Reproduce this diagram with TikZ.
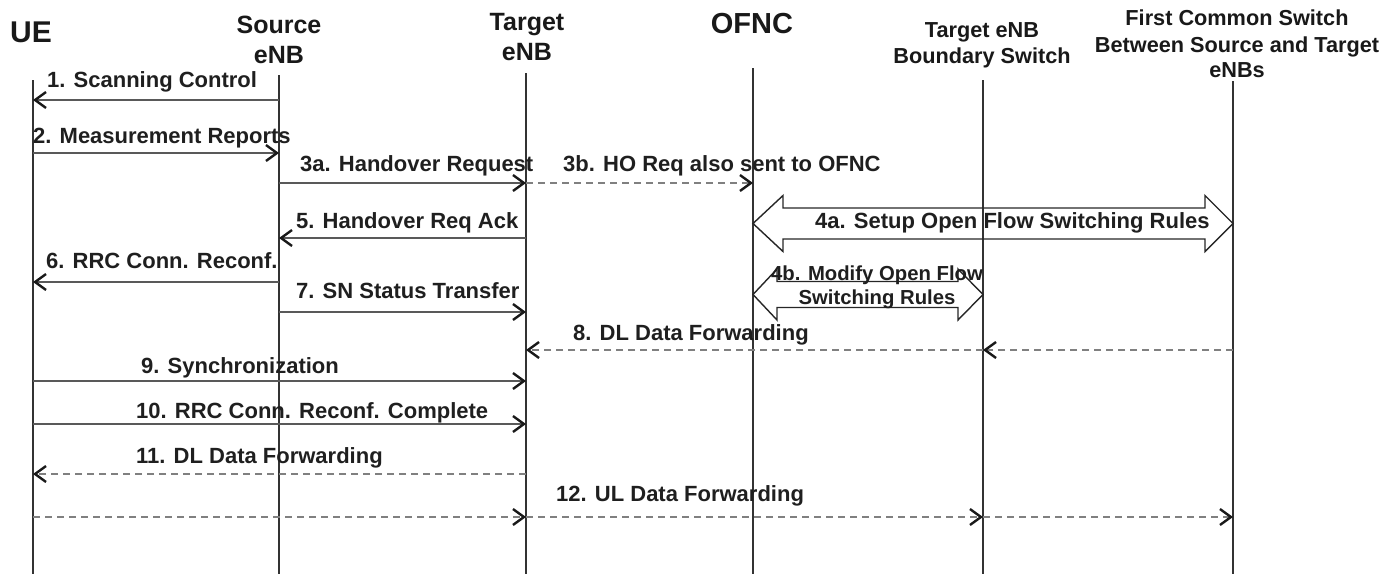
\documentclass[tikz,border=0pt]{standalone}
\usepackage{fontspec}
\setmainfont{Liberation Sans}
\usetikzlibrary{arrows.meta,calc}
\begin{document}
\begin{tikzpicture}[x=1pt,y=-1pt,
  life/.style={line width=1.4pt, draw=black!80},
  msg/.style={line width=2.4pt, draw=black!65, -{Straight Barb[length=11pt,width=16pt,line width=2.4pt,color=black!90]}},
  dmsg/.style={msg, draw=black!50, dash pattern=on 7pt off 5pt},
  blk/.style={line width=1.4pt, draw=black!85, line join=miter},
  lbl/.style={font=\fontsize{22}{26}\selectfont\bfseries, text=black!88, inner sep=0, anchor=base west},
  lblc/.style={font=\fontsize{20.3}{24}\selectfont\bfseries, text=black!88, inner sep=0, anchor=base},
  hdr/.style={font=\fontsize{25}{30}\selectfont\bfseries, text=black!90, inner sep=0, anchor=base},
  hdrr/.style={font=\fontsize{21.7}{26}\selectfont\bfseries, text=black!90, inner sep=0, anchor=base},
  big/.style={font=\fontsize{30}{36}\selectfont\bfseries, text=black!90, inner sep=0}
]
\useasboundingbox (0,0) rectangle (1385,574);

% headers
\node[big, anchor=base west] (hUE) at (10,42) {UE};
\node[hdr] (hSrcA) at (279,33) {Source};
\node[hdr] (hSrcB) at (279,63) {eNB};
\node[hdr] (hTgtA) at (527,30) {Target};
\node[hdr] (hTgtB) at (527,60) {eNB};
\node[big, anchor=base, font=\fontsize{29}{34}\selectfont\bfseries] (hOFNC) at (752,33) {OFNC};
\node[hdrr] (hBndA) at (982,37) {Target eNB};
\node[hdrr] (hBndB) at (982,63) {Boundary Switch};
\node[hdrr] (hFcsA) at (1237,25) {First Common Switch};
\node[hdrr] (hFcsB) at (1237,52) {Between Source and Target};
\node[hdrr] (hFcsC) at (1237,77) {eNBs};

% lifeline tops and bottom
\coordinate (UE) at (33,80);
\coordinate (SRC) at (279,75);
\coordinate (TGT) at (526,73);
\coordinate (OFNC) at (753,68);
\coordinate (BND) at (983,80);
\coordinate (FCS) at (1233,81);
\coordinate (bot) at (0,574);

\foreach \l in {UE,SRC,TGT,OFNC,BND,FCS}
  \draw[life] (\l) -- (\l |- bot);

% rows
\coordinate (r1) at (0,100);
\coordinate (r2) at (0,153);
\coordinate (r3) at (0,183);
\coordinate (r4a) at (0,223.5);
\coordinate (r5) at (0,238);
\coordinate (r6) at (0,282);
\coordinate (r4b) at (0,294.5);
\coordinate (r7) at (0,312);
\coordinate (r8) at (0,350);
\coordinate (r9) at (0,381);
\coordinate (r10) at (0,424);
\coordinate (r11) at (0,474);
\coordinate (r12) at (0,517);

% messages
\draw[msg] (SRC |- r1) -- (UE |- r1);
\draw[msg] (UE |- r2) -- (SRC |- r2);
\draw[msg] (SRC |- r3) -- (TGT |- r3);
\draw[dmsg] (TGT |- r3) -- (OFNC |- r3);
\draw[msg] (TGT |- r5) -- (SRC |- r5);
\draw[msg] (SRC |- r6) -- (UE |- r6);
\draw[msg] (SRC |- r7) -- (TGT |- r7);
\draw[dmsg] (FCS |- r8) -- (BND |- r8);
\draw[dmsg] (BND |- r8) -- (TGT |- r8);
\draw[msg] (UE |- r9) -- (TGT |- r9);
\draw[msg] (UE |- r10) -- (TGT |- r10);
\draw[dmsg] (TGT |- r11) -- (UE |- r11);
\draw[dmsg] (UE |- r12) -- (TGT |- r12);
\draw[dmsg] (TGT |- r12) -- (BND |- r12);
\draw[dmsg] (BND |- r12) -- (FCS |- r12);

% block arrows
\draw[blk] (OFNC |- r4a) -- ++(30,-28) -- ++(0,12.5) -- ($(FCS |- r4a)+(-28,-15.5)$) -- ++(0,-12.5) -- (FCS |- r4a)
  -- ++(-28,28) -- ++(0,-12.5) -- ($(OFNC |- r4a)+(30,15.5)$) -- ++(0,12.5) -- cycle;
\draw[blk] (OFNC |- r4b) -- ++(24,-25.5) -- ++(0,12.5) -- ($(BND |- r4b)+(-25,-13)$) -- ++(0,-12.5) -- (BND |- r4b)
  -- ++(-25,25.5) -- ++(0,-12.5) -- ($(OFNC |- r4b)+(24,13)$) -- ++(0,12.5) -- cycle;

% labels
\node[lbl] (l1) at (47,87) {1. Scanning Control};
\node[lbl] (l2) at (33,143) {2. Measurement Reports};
\node[lbl] (l3a) at (300,171) {3a. Handover Request};
\node[lbl] (l3b) at (563,171) {3b. HO Req also sent to OFNC};
\node[lbl] (l4a) at (815,228) {4a. Setup Open Flow Switching Rules};
\node[lblc] (l4bA) at (877,280) {4b. Modify Open Flow};
\node[lblc] (l4bB) at (877,304) {Switching Rules};
\node[lbl] (l5) at (296,228) {5. Handover Req Ack};
\node[lbl] (l6) at (46,268) {6. RRC Conn. Reconf.};
\node[lbl] (l7) at (296,298) {7. SN Status Transfer};
\node[lbl] (l8) at (573,340) {8. DL Data Forwarding};
\node[lbl] (l9) at (141,373) {9. Synchronization};
\node[lbl] (l10) at (136,418) {10. RRC Conn. Reconf. Complete};
\node[lbl] (l11) at (136,463) {11. DL Data Forwarding};
\node[lbl] (l12) at (556,501) {12. UL Data Forwarding};
\end{tikzpicture}
\end{document}
